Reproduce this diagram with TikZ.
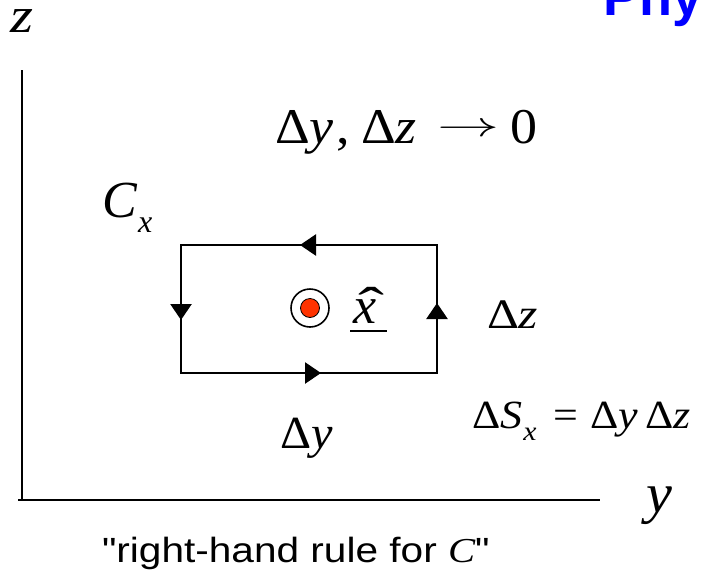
\RequirePackage{fix-cm}
\documentclass[tikz,border=0pt]{standalone}
\usepackage{graphicx}
\usepackage{fontspec}
\setmainfont{Liberation Serif}
\newfontfamily\sansf{Liberation Sans}
\usetikzlibrary{arrows.meta}
\definecolor{dotred}{RGB}{255,51,0}
\definecolor{titleblue}{RGB}{0,0,255}
\newcommand{\fs}[1]{\fontsize{#1}{#1}\selectfont}
\begin{document}
\begin{tikzpicture}[x=1pt,y=-1pt,
  lbl/.style={inner sep=0pt, outer sep=0pt, anchor=base west},
  axisline/.style={line width=1.8pt},
  loopline/.style={line width=1.8pt},
  flow/.style={line width=2.6pt, -{Triangle[length=16pt,width=21pt]}}]
\useasboundingbox (0,0) rectangle (703,576);
% title fragment
\node[lbl, font=\fs{54}\sansf\bfseries, text=titleblue] (title) at (603,15) {Physics};
% axes
\coordinate (ztop) at (22,70);
\coordinate (origin) at (22,500);
\coordinate (hstart) at (18,500);
\coordinate (yend) at (600,500);
\draw[axisline] (ztop) -- (origin);
\draw[axisline] (hstart) -- (yend);
\node[lbl, font=\fs{50}\itshape] (zlab) at (10,32) {\scalebox{1.18}[1]{z}};
\node[lbl, font=\fs{56}\itshape] (ylab) at (646,512) {\scalebox{1.04}[1]{y}};
% limit
\node[lbl, font=\fs{50}] (limit) at (275,143) {\scalebox{1.08}[1]{Δ\textit{y}\hspace{3pt},\hspace{10pt}Δ\textit{z}\hspace{19pt}\raisebox{7pt}{\scalebox{1.15}[0.7]{$\rightarrow$}}\hspace{10pt}0}};
% C_x
\node[lbl, font=\fs{52}\itshape] (clab) at (102,217) {C};
\node[lbl, font=\fs{32}\itshape] (csub) at (138,232) {x};
% loop
\coordinate (tl) at (181,245);
\coordinate (tr) at (437,245);
\coordinate (br) at (437,373);
\coordinate (bl) at (181,373);
\draw[loopline] (tl) -- (tr) -- (br) -- (bl) -- cycle;
\coordinate (ta) at (412,245); \coordinate (tb) at (300,245);
\coordinate (ba) at (210,373); \coordinate (bb) at (321,373);
\coordinate (la) at (181,257); \coordinate (lb) at (181,320);
\coordinate (ra) at (437,363); \coordinate (rb) at (437,303);
\draw[flow] (ta) -- (tb);
\draw[flow] (ba) -- (bb);
\draw[flow] (la) -- (lb);
\draw[flow] (ra) -- (rb);
% dot
\node[circle, draw, line width=1.6pt, minimum size=38pt, inner sep=0pt] (ring) at (310,308) {};
\node[circle, fill=dotred, draw=black, line width=0.8pt, minimum size=19pt, inner sep=0pt] (dot) at (ring.center) {};
% x hat
\node[lbl, font=\fs{52}] (xhat) at (353,323) {\makebox[0pt][l]{\hspace{5pt}\scalebox{1.5}[1]{ˆ}}\textit{x}};
\coordinate (ul1) at (350,331); \coordinate (ul2) at (387,331);
\draw[line width=1.8pt] (ul1) -- (ul2);
% delta z
\node[lbl, font=\fs{42}] (dz) at (487,328) {\scalebox{1.18}[1]{Δ\textit{z}}};
% delta y
\node[lbl, font=\fs{46}] (dy) at (280,448) {\scalebox{1.05}[1]{Δ\textit{y}}};
% area
\node[lbl, font=\fs{40}] (area) at (472,428) {\scalebox{1.1}[1]{Δ\textit{S}\hspace{1pt}\raisebox{-12pt}{\fs{27}\itshape x}\hspace{15pt}=\hspace{11pt}Δ\textit{y}\hspace{7pt}Δ\textit{z}}};
% caption
\node[lbl, font=\fs{35}\sansf] (cap) at (102,562) {\scalebox{1.16}[1]{"right-hand rule for {\rmfamily\itshape C}"}};
\end{tikzpicture}
\end{document}
